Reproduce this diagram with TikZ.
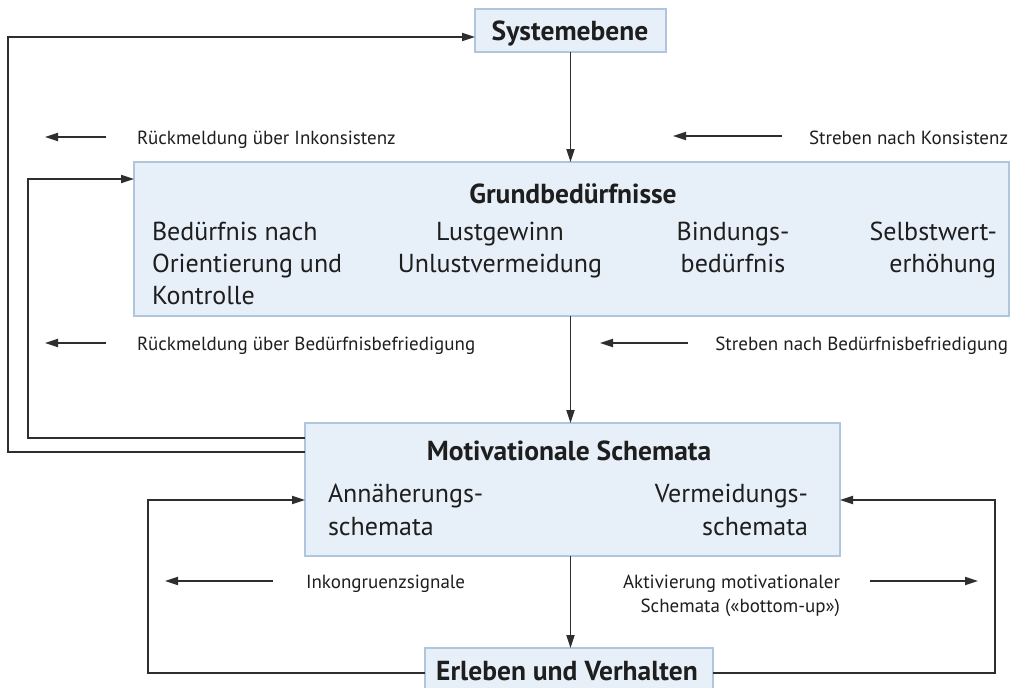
\documentclass[tikz,border=0pt]{standalone}
\usepackage{fontspec}
\setmainfont{PT Sans}
\usetikzlibrary{arrows.meta}
\definecolor{boxfill}{HTML}{E7EFF8}
\definecolor{boxline}{HTML}{AFC6DC}
\definecolor{linecol}{HTML}{2E2E2E}
\definecolor{textcol}{HTML}{1E1E1E}
\begin{document}
\begin{tikzpicture}[x=1pt,y=-1pt,
  every node/.style={inner sep=0pt, outer sep=0pt, text=textcol},
  box/.style={draw=boxline, fill=boxfill, line width=1.2pt, anchor=north west},
  ttl/.style={font=\fontsize{27.5}{32}\selectfont\bfseries},
  big/.style={font=\fontsize{26}{32}\selectfont},
  small/.style={font=\fontsize{19}{24}\selectfont},
  conn/.style={draw=linecol, line width=1.8pt, -{Triangle[length=13pt,width=8pt]}}]
\path[use as bounding box] (0,0) rectangle (1013,688);
\clip (0,0) rectangle (1013,688);
% boxes
\node[box, minimum width=191pt, minimum height=43pt] (sys) at (475,9) {};
\node[box, minimum width=875pt, minimum height=154pt] (grund) at (134,162) {};
\node[box, minimum width=535pt, minimum height=133pt] (motiv) at (305,423) {};
\node[box, minimum width=288pt, minimum height=50pt] (erl) at (425,648) {};
% titles
\node[ttl, anchor=base] (systxt) at (570,40) {Systemebene};
\node[ttl, anchor=base] (grundtxt) at (573,203) {Grundbedürfnisse};
\node[ttl, anchor=base] (motivtxt) at (569,460) {Motivationale Schemata};
\node[ttl, anchor=base] (erltxt) at (567,680) {Erleben und Verhalten};
% Grundbedürfnisse content
\node[big, anchor=base west] (g1a) at (152,240) {Bedürfnis nach};
\node[big, anchor=base west] (g1b) at (152,272) {Orientierung und};
\node[big, anchor=base west] (g1c) at (152,304) {Kontrolle};
\node[big, anchor=base] (g2a) at (500,240) {Lustgewinn};
\node[big, anchor=base] (g2b) at (500,272) {Unlustvermeidung};
\node[big, anchor=base] (g3a) at (733,240) {Bindungs-};
\node[big, anchor=base] (g3b) at (733,272) {bedürfnis};
\node[big, anchor=base east] (g4a) at (997,240) {Selbstwert-};
\node[big, anchor=base east] (g4b) at (996,272) {erhöhung};
% Motivationale Schemata content
\node[big, anchor=base west] (m1a) at (328,502) {Annäherungs-};
\node[big, anchor=base west] (m1b) at (328,535) {schemata};
\node[big, anchor=base east] (m2a) at (808,502) {Vermeidungs-};
\node[big, anchor=base east] (m2b) at (808,535) {schemata};
% labels
\node[small, anchor=base west] (rinc) at (137,144) {Rückmeldung über Inkonsistenz};
\node[small, anchor=base east] (skon) at (1008,144) {Streben nach Konsistenz};
\node[small, anchor=base west] (rbed) at (137,350) {Rückmeldung über Bedürfnisbefriedigung};
\node[small, anchor=base east] (sbed) at (1008,350) {Streben nach Bedürfnisbefriedigung};
\node[small, anchor=base west] (inkon) at (306,588) {Inkongruenzsignale};
\node[small, anchor=base east] (akt1) at (840,588) {Aktivierung motivationaler};
\node[small, anchor=base east] (akt2) at (840,612) {Schemata («bottom-up»)};
% free arrows
\coordinate (a1s) at (106,137); \coordinate (a1e) at (45,137);
\coordinate (a2s) at (782,136); \coordinate (a2e) at (673,136);
\coordinate (a3s) at (106,343); \coordinate (a3e) at (45,343);
\coordinate (a4s) at (688,343); \coordinate (a4e) at (600,343);
\coordinate (a5s) at (273,581); \coordinate (a5e) at (165,581);
\coordinate (a6s) at (870,581); \coordinate (a6e) at (978,581);
\foreach \i in {1,...,6} \draw[conn] (a\i s) -- (a\i e);
% main flow
\draw[conn] (sys.south) -- (sys.south |- grund.north);
\draw[conn] (grund.south -| sys.south) -- (sys.south |- motiv.north);
\draw[conn] (motiv.south -| sys.south) -- (sys.south |- erl.north);
% feedback loops
\draw[conn] (motiv.west |- 0,452) -- (8,452) -- (8,37) -- (sys.west |- 0,37);
\draw[conn] (motiv.west |- 0,438) -- (28,438) -- (28,179) -- (grund.west |- 0,179);
\draw[conn] (erl.west) -| (148,500) -- (motiv.west |- 0,500);
\draw[conn] (erl.east) -| (995,500) -- (motiv.east |- 0,500);
\end{tikzpicture}
\end{document}
